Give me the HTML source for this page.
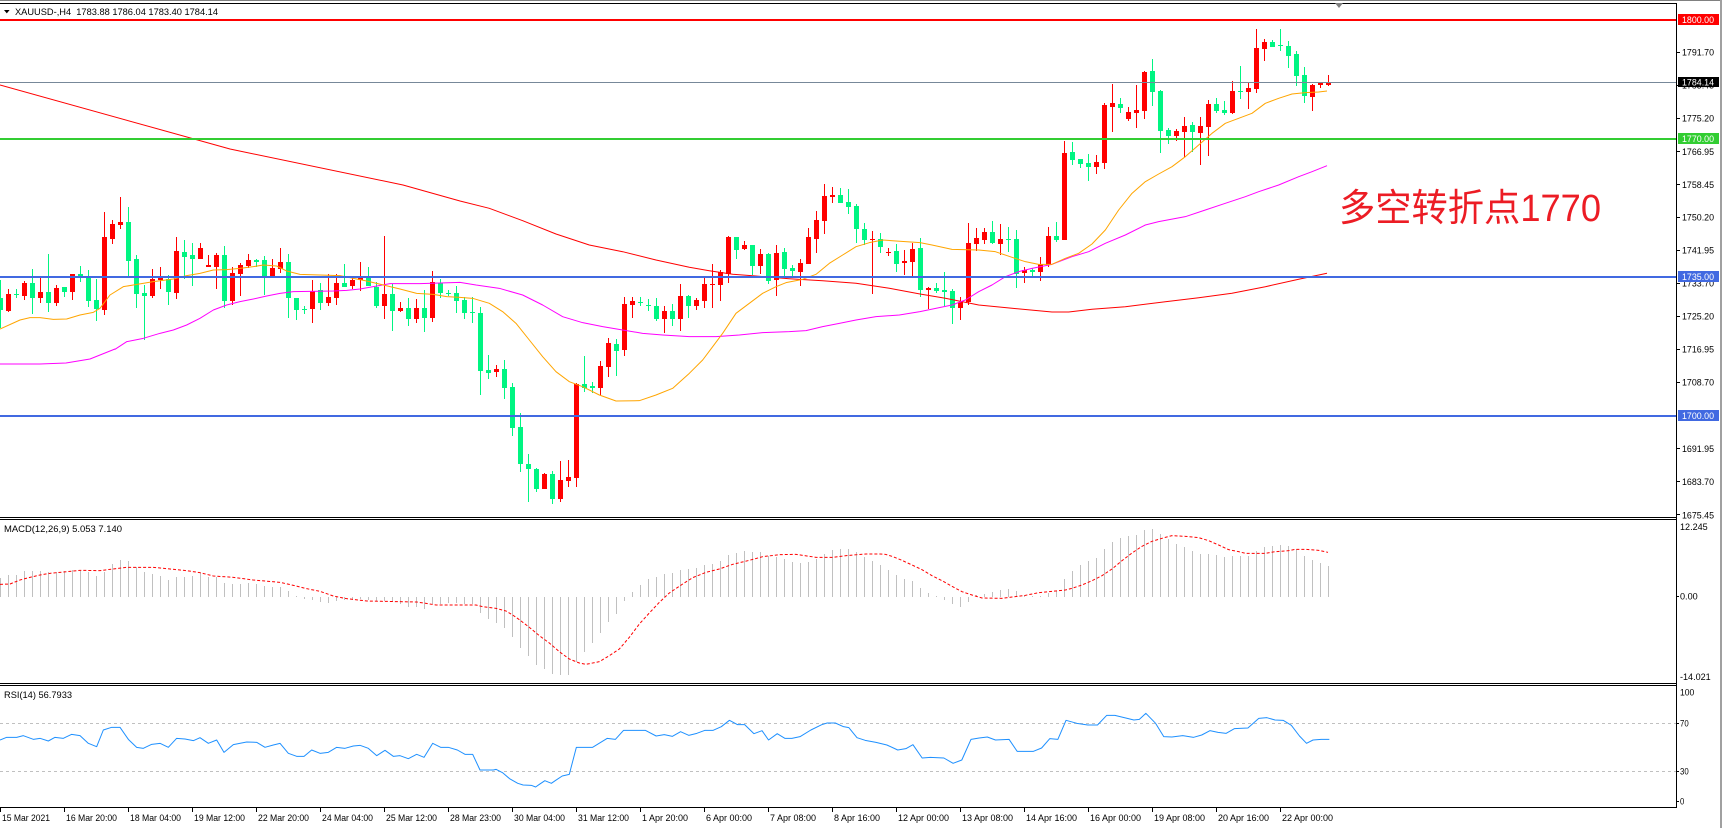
<!DOCTYPE html>
<html><head><meta charset="utf-8">
<style>
html,body{margin:0;padding:0;background:#fff;}
svg{display:block;}
text{font-family:"Liberation Sans",Arial,sans-serif;font-size:9.2px;fill:#000;}
</style></head><body>
<svg id="c" xmlns="http://www.w3.org/2000/svg" width="1727" height="828" viewBox="0 0 1727 828">
<rect width="1727" height="828" fill="#fff"/>
<g id="layer"></g>

<!-- RSI level lines -->
<g shape-rendering="crispEdges">
<line x1="0" y1="723.5" x2="1676" y2="723.5" stroke="#c0c0c0" stroke-width="1" stroke-dasharray="3,3"/>
<line x1="0" y1="771.5" x2="1676" y2="771.5" stroke="#c0c0c0" stroke-width="1" stroke-dasharray="3,3"/>
</g>
<g id="layer2"></g>

<!-- horizontal price lines -->
<g shape-rendering="crispEdges">
<rect x="0" y="19" width="1676" height="2" fill="#ff0000"/>
<rect x="0" y="82" width="1676" height="1" fill="#778899"/>
<rect x="0" y="138" width="1676" height="2" fill="#32cd32"/>
<rect x="0" y="276" width="1676" height="2" fill="#4169e1"/>
<rect x="0" y="415" width="1676" height="2" fill="#4169e1"/>
</g>

<!-- frame -->
<g shape-rendering="crispEdges">
<rect x="0" y="0" width="1722" height="1" fill="#808080"/>
<rect x="0" y="3" width="1677" height="1" fill="#000"/>
<rect x="1676" y="3" width="1" height="805" fill="#000"/>
<rect x="0" y="517" width="1677" height="1" fill="#000"/>
<rect x="0" y="519" width="1677" height="1" fill="#000"/>
<rect x="0" y="683" width="1677" height="1" fill="#000"/>
<rect x="0" y="685" width="1677" height="1" fill="#000"/>
<rect x="0" y="807" width="1677" height="1" fill="#000"/>
<rect x="1720" y="0" width="2" height="828" fill="#a0a0a0"/>
<!-- price ticks -->
<rect x="1676" y="52" width="4" height="1" fill="#000"/>
<rect x="1676" y="85" width="4" height="1" fill="#000"/>
<rect x="1676" y="118" width="4" height="1" fill="#000"/>
<rect x="1676" y="151" width="4" height="1" fill="#000"/>
<rect x="1676" y="184" width="4" height="1" fill="#000"/>
<rect x="1676" y="217" width="4" height="1" fill="#000"/>
<rect x="1676" y="250" width="4" height="1" fill="#000"/>
<rect x="1676" y="283" width="4" height="1" fill="#000"/>
<rect x="1676" y="316" width="4" height="1" fill="#000"/>
<rect x="1676" y="349" width="4" height="1" fill="#000"/>
<rect x="1676" y="382" width="4" height="1" fill="#000"/>
<rect x="1676" y="448" width="4" height="1" fill="#000"/>
<rect x="1676" y="481" width="4" height="1" fill="#000"/>
<rect x="1676" y="514" width="4" height="1" fill="#000"/>
<rect x="1676" y="596" width="3" height="1" fill="#000"/>
<rect x="1676" y="723" width="3" height="1" fill="#000"/>
<rect x="1676" y="771" width="3" height="1" fill="#000"/>
<rect x="1676" y="801" width="3" height="1" fill="#000"/>
<!-- time ticks -->
<rect x="0" y="808" width="1" height="4" fill="#000"/>
<rect x="64" y="808" width="1" height="4" fill="#000"/>
<rect x="128" y="808" width="1" height="4" fill="#000"/>
<rect x="192" y="808" width="1" height="4" fill="#000"/>
<rect x="256" y="808" width="1" height="4" fill="#000"/>
<rect x="320" y="808" width="1" height="4" fill="#000"/>
<rect x="384" y="808" width="1" height="4" fill="#000"/>
<rect x="448" y="808" width="1" height="4" fill="#000"/>
<rect x="512" y="808" width="1" height="4" fill="#000"/>
<rect x="576" y="808" width="1" height="4" fill="#000"/>
<rect x="640" y="808" width="1" height="4" fill="#000"/>
<rect x="704" y="808" width="1" height="4" fill="#000"/>
<rect x="768" y="808" width="1" height="4" fill="#000"/>
<rect x="832" y="808" width="1" height="4" fill="#000"/>
<rect x="896" y="808" width="1" height="4" fill="#000"/>
<rect x="960" y="808" width="1" height="4" fill="#000"/>
<rect x="1024" y="808" width="1" height="4" fill="#000"/>
<rect x="1088" y="808" width="1" height="4" fill="#000"/>
<rect x="1152" y="808" width="1" height="4" fill="#000"/>
<rect x="1216" y="808" width="1" height="4" fill="#000"/>
<rect x="1280" y="808" width="1" height="4" fill="#000"/>
</g>

<!-- header -->
<polygon points="4,10 9.6,10 6.8,13.4" fill="#000"/>
<text x="15" y="15" textLength="203" lengthAdjust="spacingAndGlyphs" style="white-space:pre">XAUUSD-,H4  1783.88 1786.04 1783.40 1784.14</text>
<polygon points="1335,3 1343,3 1339,8" fill="#808080"/>

<text x="4" y="532" textLength="118" lengthAdjust="spacingAndGlyphs">MACD(12,26,9) 5.053 7.140</text>
<text x="4" y="698" textLength="68" lengthAdjust="spacingAndGlyphs">RSI(14) 56.7933</text>

<!-- annotation -->
<text x="1339" y="221" textLength="262" lengthAdjust="spacingAndGlyphs" style="font-family:'Liberation Sans','Noto Sans CJK SC',sans-serif;font-size:38px;fill:#ec1c24">多空转折点1770</text>

<!-- price labels -->
<g>
<text x="1682" y="55.6" textLength="32" lengthAdjust="spacingAndGlyphs">1791.70</text>
<text x="1682" y="88.5" textLength="32" lengthAdjust="spacingAndGlyphs">1783.45</text>
<text x="1682" y="121.3" textLength="32" lengthAdjust="spacingAndGlyphs">1775.20</text>
<text x="1682" y="155" textLength="32" lengthAdjust="spacingAndGlyphs">1766.95</text>
<text x="1682" y="188" textLength="32" lengthAdjust="spacingAndGlyphs">1758.45</text>
<text x="1682" y="220.6" textLength="32" lengthAdjust="spacingAndGlyphs">1750.20</text>
<text x="1682" y="253.3" textLength="32" lengthAdjust="spacingAndGlyphs">1741.95</text>
<text x="1682" y="286.3" textLength="32" lengthAdjust="spacingAndGlyphs">1733.70</text>
<text x="1682" y="319.3" textLength="32" lengthAdjust="spacingAndGlyphs">1725.20</text>
<text x="1682" y="352.6" textLength="32" lengthAdjust="spacingAndGlyphs">1716.95</text>
<text x="1682" y="385.6" textLength="32" lengthAdjust="spacingAndGlyphs">1708.70</text>
<text x="1682" y="452" textLength="32" lengthAdjust="spacingAndGlyphs">1691.95</text>
<text x="1682" y="485" textLength="32" lengthAdjust="spacingAndGlyphs">1683.70</text>
<text x="1682" y="518.3" textLength="32" lengthAdjust="spacingAndGlyphs">1675.45</text>
</g>
<!-- price boxes -->
<g shape-rendering="crispEdges">
<rect x="1678" y="14" width="41" height="11" fill="#ff0000"/>
<rect x="1678" y="77" width="41" height="10" fill="#000"/>
<rect x="1678" y="133" width="41" height="11" fill="#32cd32"/>
<rect x="1678" y="271" width="41" height="11" fill="#4169e1"/>
<rect x="1678" y="410" width="41" height="11" fill="#4169e1"/>
</g>
<g style="fill:#fff">
<text x="1682" y="23" textLength="32" lengthAdjust="spacingAndGlyphs" style="fill:#fff">1800.00</text>
<text x="1682" y="85.5" textLength="32" lengthAdjust="spacingAndGlyphs" style="fill:#fff">1784.14</text>
<text x="1682" y="142" textLength="32" lengthAdjust="spacingAndGlyphs" style="fill:#fff">1770.00</text>
<text x="1682" y="280" textLength="32" lengthAdjust="spacingAndGlyphs" style="fill:#fff">1735.00</text>
<text x="1682" y="419" textLength="32" lengthAdjust="spacingAndGlyphs" style="fill:#fff">1700.00</text>
</g>
<!-- indicator scale labels -->
<text x="1680" y="530" textLength="27.7" lengthAdjust="spacingAndGlyphs">12.245</text>
<text x="1680" y="599.6" textLength="17.7" lengthAdjust="spacingAndGlyphs">0.00</text>
<text x="1680" y="680" textLength="30.7" lengthAdjust="spacingAndGlyphs">-14.021</text>
<text x="1680" y="695.6" textLength="14.3" lengthAdjust="spacingAndGlyphs">100</text>
<text x="1680" y="726.4" textLength="8.7" lengthAdjust="spacingAndGlyphs">70</text>
<text x="1680" y="774.6" textLength="8.7" lengthAdjust="spacingAndGlyphs">30</text>
<text x="1680" y="804.6" textLength="4.3" lengthAdjust="spacingAndGlyphs">0</text>

<!-- time labels -->
<g>
<text x="2" y="821" textLength="48" lengthAdjust="spacingAndGlyphs">15 Mar 2021</text>
<text x="66" y="821" textLength="51" lengthAdjust="spacingAndGlyphs">16 Mar 20:00</text>
<text x="130" y="821" textLength="51" lengthAdjust="spacingAndGlyphs">18 Mar 04:00</text>
<text x="194" y="821" textLength="51" lengthAdjust="spacingAndGlyphs">19 Mar 12:00</text>
<text x="258" y="821" textLength="51" lengthAdjust="spacingAndGlyphs">22 Mar 20:00</text>
<text x="322" y="821" textLength="51" lengthAdjust="spacingAndGlyphs">24 Mar 04:00</text>
<text x="386" y="821" textLength="51" lengthAdjust="spacingAndGlyphs">25 Mar 12:00</text>
<text x="450" y="821" textLength="51" lengthAdjust="spacingAndGlyphs">28 Mar 23:00</text>
<text x="514" y="821" textLength="51" lengthAdjust="spacingAndGlyphs">30 Mar 04:00</text>
<text x="578" y="821" textLength="51" lengthAdjust="spacingAndGlyphs">31 Mar 12:00</text>
<text x="642" y="821" textLength="46" lengthAdjust="spacingAndGlyphs">1 Apr 20:00</text>
<text x="706" y="821" textLength="46" lengthAdjust="spacingAndGlyphs">6 Apr 00:00</text>
<text x="770" y="821" textLength="46" lengthAdjust="spacingAndGlyphs">7 Apr 08:00</text>
<text x="834" y="821" textLength="46" lengthAdjust="spacingAndGlyphs">8 Apr 16:00</text>
<text x="898" y="821" textLength="51" lengthAdjust="spacingAndGlyphs">12 Apr 00:00</text>
<text x="962" y="821" textLength="51" lengthAdjust="spacingAndGlyphs">13 Apr 08:00</text>
<text x="1026" y="821" textLength="51" lengthAdjust="spacingAndGlyphs">14 Apr 16:00</text>
<text x="1090" y="821" textLength="51" lengthAdjust="spacingAndGlyphs">16 Apr 00:00</text>
<text x="1154" y="821" textLength="51" lengthAdjust="spacingAndGlyphs">19 Apr 08:00</text>
<text x="1218" y="821" textLength="51" lengthAdjust="spacingAndGlyphs">20 Apr 16:00</text>
<text x="1282" y="821" textLength="51" lengthAdjust="spacingAndGlyphs">22 Apr 00:00</text>
</g>
</svg>
<script>
(function(){
var NS='http://www.w3.org/2000/svg';
var L=document.getElementById('layer');
var L2=document.getElementById('layer2');
var cur=L;
function mk(t,a){var e=document.createElementNS(NS,t);for(var k in a)e.setAttribute(k,a[k]);cur.appendChild(e);return e;}
function R(x,y,w,h,c){mk('rect',{x:x,y:y,width:w,height:h,fill:c,'shape-rendering':'crispEdges'});}
function P(arr,ox,oy,sx,sy){var s=[];for(var i=0;i<arr.length;i+=2)s.push((ox+arr[i]*sx).toFixed(2)+','+(oy+arr[i+1]*sy).toFixed(2));return s.join(' ');}
function line(pts,c,d){var a={points:pts,fill:'none',stroke:c,'stroke-width':1,'stroke-linejoin':'round'};if(d)a['stroke-dasharray']=d;mk('polyline',a);}
var G='#00f582',RD='#ff0000';
function candles(str,k0,oy){var list=str.split(',');for(var i=0;i<list.length;i++){var q=list[i].trim().split(/\s+/);var k=k0+i,x=8*k,c=q[0]=='r'?RD:G;
 var bt=Math.round(oy+(+q[1])/3),bb=Math.round(oy+(+q[2])/3),wt=Math.round(oy+(+q[3])/3),wb=Math.round(oy+(+q[4])/3);
 if(wb<=wt)wb=wt+1;R(x,wt,1,wb-wt,c);var h=bb-bt;if(h<1)h=1;R(x-2,bt,5,h,c);}}
var Z7="g 340 375 285 430,r 327 378 312 380,g 326 330 312 338,r 294 333 288 345,g 294 339 252 387,r 321 339 278 353,g 321 354 207 381,r 309 354 300 364,g 306 321 306 336,r 267 320 267 345,g 267 273 243 291,g 277 348 255 365,g 345 372 282 408,r 155 375 80 390,r 117 161 105 177,r 111 120 36 132,g 111 227 66 275,g 222 327 210 369,g 324 332 300 465,r 282 333 252 339,r 276 285 246 312,g 282 321 270 360,r 198 324 156 342,g 201 216 165 282,g 210 221 174 303,r 189 222 174 222,r 240 245 210 246,r 210 246 204 312,g 210 348 183 369,r 264 348 246 360,r 240 267 234 333,r 225 243 207 249,g 225 231 222 246,g 225 273 213 330,r 249 273 222 276,r 231 252 189 264,g 231 339 207 399,g 339 375 339 405,g 371 373 363 387,r 318 372 285 413,g 315 354 294 375,r 336 354 267 363,r 294 339 267 360,g 294 306 237 306,r 285 303 279 312,r 279 285 231 318,g 279 303 246 303,g 306 363 291 369,r 327 363 153 402,g 327 378 297 438,r 369 378 351 381,g 369 402 339 423,r 369 402 342 414,g 369 399 315 441,r 291 399 258 411,g 294 324 282 339,g 323 325 315 333,g 324 348 303 384";
var Z8="g 360 398 350 416,g 396 400 350 428,g 400 572 380 644,g 570 578 525 597,r 567 575 555 590,g 567 623 540 656,g 621 743 608 767,g 741 851 698 875,g 852 866 822 965,g 867 927 863 935,r 882 926 880 926,g 882 956 872 973,r 900 956 843 967,r 891 902 839 920,r 612 893 609 922,g 612 624 527 635,g 618 624 605 640,r 558 624 543 645,r 488 560 474 590,g 492 513 476 587,r 372 510 351 527,r 363 374 351 413,g 365 367 352 377,g 374 376 356 393,g 378 416 355 422,r 393 416 378 458,g 393 416 372 437,r 348 416 312 452,g 348 378 345 413,r 360 378 354 389,r 312 362 294 383,r 312 314 252 383,r 277 314 270 362,r 171 281 168 308,g 171 210 170 237,r 195 207 183 210,g 195 257 195 285,r 222 257 208 282,g 222 302 219 311,r 219 301 195 347,g 216 268 204 293,g 263 272 254 288,r 249 275 237 317,r 171 251 144 251,r 120 176 93 218,r 48 122 12 161,r 45 50 21 68,g 45 68 24 68,g 66 80 27 101,g 78 147 72 188,g 147 179 129 195,r 178 180 153 341,g 178 200 159 218,r 216 219 204 228,g 213 251 192 276,r 243 249 210 285,r 207 245 188 288";
var Z9="g 684 809 654 830,r 803 809 800 866,g 803 812 790 818,g 809 815 757 857,g 813 863 806 911,r 845 863 830 899,r 669 845 609 854,r 654 672 624 693,r 636 660 624 672,g 636 669 603 672,r 657 672 612 705,g 657 659 620 696,g 657 761 630 803,r 751 760 742 788,g 749 755 745 767,r 733 756 711 782,r 648 736 621 741,g 648 660 606 666,r 399 660 363 660,g 396 420 366 435,g 417 432 417 444,g 429 441 402 482,r 426 441 405 461,r 255 428 249 446,r 249 261 192 336,g 252 264 234 279,r 276 297 261 302,r 270 279 195 324,r 155 273 153 297,g 153 216 117 258,g 213 333 210 399,g 330 348 324 372,r 333 348 327 363,r 318 336 291 411,g 315 336 306 395,r 318 339 291 434,r 252 321 240 408,g 252 273 234 279,g 270 279 243 285,r 213 279 183 282,g 212 214 138 237,r 204 216 186 267,r 84 207 27 219,r 66 87 57 123,g 66 80 60 81,g 75 77 27 93,g 78 108 63 144,g 102 168 93 198,g 165 228 141 249,r 195 231 192 273,r 189 195 186 204,r 186 195 165 198";
candles(Z7,0,185);candles(Z8,58,180);candles(Z9,115,20);

var t=1/3;
// red long MA
line(P([0,85,230,149,403,185,460,201,489.3,208.3,522.7,220.7,556,234,589.3,245,622.7,251.7,656,260,689.3,267.3,709.3,270.7,732.7,274.3,756,276,789.3,278.7,822.7,280.7,856,283.3,889.3,288.3,920,294,945.3,298.3,978.7,305,1012,308.3,1052,312,1068.7,312,1092,309.3,1125.3,306.7,1165.3,301.7,1198.7,297.7,1232,293.3,1265.3,286.7,1298.7,279.3,1327,273.3],0,0,1,1),RD);
// magenta
var m=P([0,364,40,364,66,363,90,359,115,349],0,0,1,1)+' '+
P([345,493,380,470,430,460,480,445,520,435,560,420,600,400,640,375,680,360,720,350,760,342,800,333,840,325,880,320,1000,318,1040,316,1080,312,1120,305,1170,296,1260,296,1380,292],0,185,t,t)+' '+
P([0,308,60,315,130,325,200,345,260,375,320,410,380,428,440,440,500,450,560,460,620,465,700,470,780,470,850,465,920,458,1000,455,1050,452,1100,440,1150,430,1200,420,1260,410,1330,405,1392,395].slice(2),456,180,t,t)+' '+
P([0,880,60,870,120,855,160,840,200,815,240,795,280,770,320,755,360,745,420,733,480,710,530,695,580,670,640,645,700,615,740,605,820,590,880,570,940,550,1000,530,1040,515,1100,495,1160,470,1200,455,1245,437].slice(4),912,20,t,t);
line(m,'#ff00ff');
// orange
var o=P([0,432,60,405,90,398,120,398,160,403,200,402,240,390,280,382,300,370,330,330,370,305,400,300,460,290,520,282,560,272,600,265,640,255,680,254,720,250,760,245,790,240,830,243,860,258,900,268,960,270,1020,272,1060,280,1100,288,1150,300,1200,312,1250,325,1300,328,1340,335,1380,337],0,185,t,t)+' '+
P([50,355,100,370,140,395,180,430,220,480,260,530,300,575,340,605,380,620,430,645,480,663,550,662,600,645,650,625,700,580,740,540,770,500,800,460,840,400,880,370,920,340,960,320,990,308,1040,298,1080,283,1120,250,1160,225,1200,200,1240,188,1280,180,1320,183,1392,188],456,180,t,t)+' '+
P([60,675,120,688,200,690,250,695,300,712,340,725,380,733,420,733,460,715,500,700,540,672,580,630,620,570,660,520,700,485,740,462,780,440,820,410,860,375,900,340,940,310,980,295,1020,280,1060,250,1100,235,1140,222,1180,218,1220,216,1245,213],912,20,t,t);
line(o,'#ffa500');

// MACD histogram
function hist(arr,k0,oy){var z=596.5;for(var i=0;i<arr.length;i++){var y=oy+arr[i]/3;var a=Math.round(Math.min(y,z)),b=Math.round(Math.max(y,z));if(b-a<1)continue;R(8*(k0+i),a,1,b-a,'#c0c0c0');}}
hist([234,224,224,212,212,212,216,216,214,210,214,216,228,216,192,180,183,200,216,222,228,240,230,230,228,220,230,230,248,252,252,250,252,257,260,260,272,288,298,300,305,308,304,300,300,298,300,302,302,306,312,320,322],0,500);
hist([270,255,255,252,252,255,256,282,300,312,327,354,387,411,438,450,465,468,468,430,399,372,342,309,285,246,218,198,180,174,165,162,153,150,146,137,134,126,108,101,96,99,99,111,114,120,128,131,128,120,104,93,90,90,99,114],53,519);
hist([126,138,153,168,180,186,207,222,231,243,255,264,249,228,225,219,213,210,216,228,230,231,222,216,180,156,138,126,117,90,69,57,51,48,33,30,45,60,75,84,96,105,105,108,114,111,111,111,96,84,81,78,81,90,111,123,132,141],109,519);
// signal
var s=P([0,253,30,252,60,240,90,232,120,225,150,220,190,216,240,211,300,212,330,208,380,202,460,202,500,206,560,212,600,218,640,228,700,232,760,240,840,247,880,256,920,266,960,274,1000,288,1040,296,1100,303,1200,305,1250,306],0,500,t,t)+' '+
P([30,253,60,258,180,258,200,263,240,268,270,276,290,288,310,302,340,325,370,350,400,372,430,398,460,420,490,432,510,436,550,428,580,410,610,390,640,355,670,315,700,282,730,250,760,222,800,195,830,176,870,160,910,150,950,136,1000,124,1040,113,1090,107,1140,106,1200,115,1250,115,1300,109,1350,105,1392,105],416,519,t,t)+' '+
P([40,106,60,112,90,124,120,138,150,152,180,170,210,185,240,202,270,218,300,228,330,237,390,238,420,234,460,229,500,221,540,217,580,213,600,208,630,198,660,185,690,170,720,150,750,125,780,102,810,82,840,67,880,55,900,50,940,52,980,56,1010,65,1040,78,1070,92,1100,98,1120,103,1180,103,1210,98,1250,95,1270,91,1300,91,1340,94,1368,100],872,519,t,t);
line(s,RD,'3,2');

// RSI
cur=L2;
var r=P([0,240,20,232,50,232,70,227,100,238,120,235,145,243,165,232,190,235,215,223,240,227,265,250,290,260,310,210,335,202,360,202,385,238,410,262,430,265,455,253,480,250,505,262,530,235,555,237,580,242,600,233,625,250,650,240,672,277,700,254,740,246,770,247,795,262,820,255,840,250,865,280,890,289,912,289,935,270,960,280,985,277,1010,262,1035,265,1060,258,1080,256,1105,265,1130,287,1155,271,1180,289,1200,287,1225,296,1250,283,1272,292,1298,250,1322,262,1345,262,1372,270,1395,283,1418,283,1440,330,1480,330],0,660,t,t)+' '+
P([0,250,12,260,25,278,40,292,50,297,65,298,73,303,80,295,90,284,102,292,110,283,122,270,135,265,148,184,178,184,190,172,205,157,220,160,235,133,275,133,295,150,310,146,325,151,340,137,355,148,370,142,385,133,400,133,415,122,430,103,445,116,458,116,475,143,490,134,502,162,518,143,532,157,545,157,560,152,580,132,600,116,610,111,625,111,640,122,650,125,665,155,680,163,700,169,720,177,740,192,755,188,768,176,785,216,800,214,825,216,842,232,858,222,875,160,890,156,905,153,920,162,945,160,960,196,990,196,1005,186,1020,158,1035,160,1050,103,1070,112,1090,117,1108,117,1125,88,1140,88,1160,96,1175,102,1185,100,1197,82,1215,112,1230,152,1245,153,1265,149,1285,154,1300,147,1315,134,1330,139,1345,142,1360,128,1385,126,1405,97,1420,95,1435,102,1450,103,1465,118,1480,150,1493,172,1505,162,1520,160,1535,160],496,686,1/1.842,t);
line(r,'#1e90ff');
})();
</script>
</body></html>
